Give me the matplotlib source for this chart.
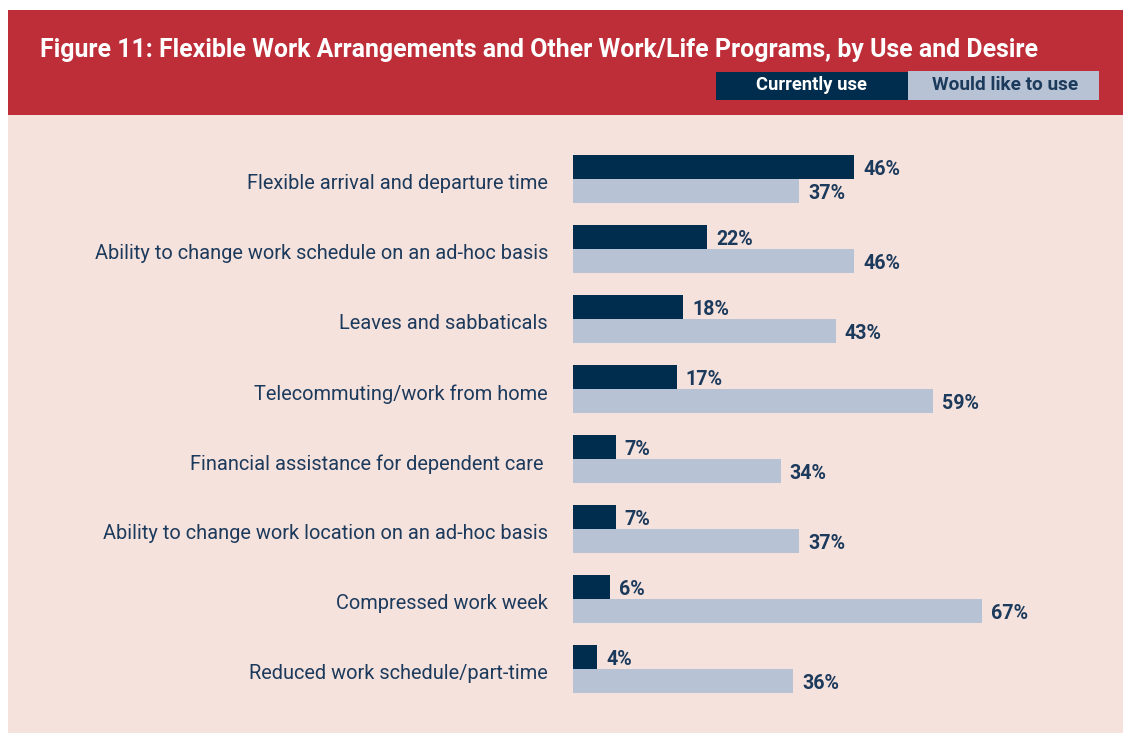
import matplotlib
matplotlib.use("Agg")
import matplotlib.pyplot as plt
from matplotlib import font_manager
from matplotlib.patches import Rectangle

# ---- data ----
categories = [
    "Flexible arrival and departure time",
    "Ability to change work schedule on an ad-hoc basis",
    "Leaves and sabbaticals",
    "Telecommuting/work from home",
    "Financial assistance for dependent care ",
    "Ability to change work location on an ad-hoc basis",
    "Compressed work week",
    "Reduced work schedule/part-time",
]
currently_use = [46, 22, 18, 17, 7, 7, 6, 4]
would_like = [37, 46, 43, 59, 34, 37, 67, 36]
series_names = ["Currently use", "Would like to use"]
title = "Figure 11: Flexible Work Arrangements and Other Work/Life Programs, by Use and Desire"

# ---- style ----
RED = "#BE2E38"
PINK = "#F6E2DD"
DARK = "#002D4D"
LIGHT = "#B7C2D4"
NAVY = "#1C3A5C"

names = {f.name for f in font_manager.fontManager.ttflist}
FONT = "Liberation Sans Narrow" if "Liberation Sans Narrow" in names else "Roboto"

W, H = 1123, 733
fig = plt.figure(figsize=(W / 100, H / 100), dpi=100)
fig.patch.set_facecolor("white")

def px(x, y, w, h):
    return [x / W, 1 - (y + h) / H, w / W, h / H]

# backgrounds
fig.patches.append(Rectangle((8 / W, 0), 1 - 8 / W, 1 - 115 / H, transform=fig.transFigure,
                             facecolor=PINK, edgecolor="none", zorder=-3))
fig.patches.append(Rectangle((8 / W, 1 - 115 / H), 1 - 8 / W, 105 / H, transform=fig.transFigure,
                             facecolor=RED, edgecolor="none", zorder=-3))
# legend boxes
fig.patches.append(Rectangle((716 / W, 1 - 100 / H), 193 / W, 28 / H, transform=fig.transFigure,
                             facecolor=DARK, edgecolor="none", zorder=-2))
fig.patches.append(Rectangle((908 / W, 1 - 100 / H), 191 / W, 29 / H, transform=fig.transFigure,
                             facecolor=LIGHT, edgecolor="none", zorder=-2))

renderer = fig.canvas.get_renderer()

def fit_text(x, y, s, target_w, ha="left", base=20, **kw):
    t = fig.text(x / W, 1 - y / H, s, ha=ha, va="center", fontsize=base, family=FONT, **kw)
    w = t.get_window_extent(renderer).width
    t.set_fontsize(base * target_w / w)
    return t

fit_text(40, 50, title, 993, weight="bold", color="white")
fit_text(811, 85, series_names[0], 110, ha="center", weight="bold", color="white")
fit_text(1005, 85, series_names[1], 146, ha="center", weight="bold", color=NAVY)

# ---- bar axes ----
x0, x1 = 573, 1123
y0, y1 = 115, 733
ax = fig.add_axes(px(x0, y0, x1 - x0, y1 - y0))
ax.set_facecolor("none")
ax.set_zorder(1)
scale = 281 / 46.0  # px per percent
ax.set_xlim(0, (x1 - x0) / scale)
pitch = 70.0
ax.set_ylim((y1 - 179) / pitch, -(179 - y0) / pitch)

ys = list(range(len(categories)))
off = 0.172
hgt = 0.352
ax.barh([y - off for y in ys], currently_use, height=hgt, color=DARK, align="center")
ax.barh([y + off for y in ys], would_like, height=hgt, color=LIGHT, align="center")

# value labels size: fit "46%" to 37 px
probe = fig.text(0, 0, "46%", fontsize=20, family=FONT, weight="bold")
vfs = 20 * 37 / probe.get_window_extent(renderer).width
probe.remove()
pad = 9 / scale
for y, v in zip(ys, currently_use):
    ax.text(v + pad, y - off + 0.04, f"{v}%", va="center", ha="left", fontsize=vfs,
            family=FONT, weight="bold", color=NAVY)
for y, v in zip(ys, would_like):
    ax.text(v + pad, y + off + 0.04, f"{v}%", va="center", ha="left", fontsize=vfs,
            family=FONT, weight="bold", color=NAVY)

# category labels: fit longest to 452 px
probe = fig.text(0, 0, categories[1], fontsize=20, family=FONT)
cfs = 20 * 452 / probe.get_window_extent(renderer).width
probe.remove()
ax.set_yticks([y + 0.04 for y in ys])
ax.set_yticklabels(categories, fontsize=cfs, family=FONT, color=NAVY)
ax.tick_params(axis="y", length=0, pad=18)
ax.set_xticks([])
for s in ax.spines.values():
    s.set_visible(False)

fig.savefig("out.png", dpi=100, facecolor=fig.get_facecolor())
